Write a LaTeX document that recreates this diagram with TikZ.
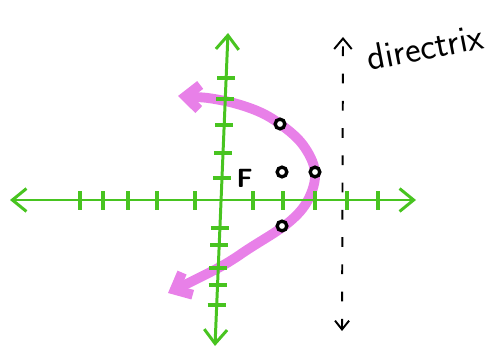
\documentclass[tikz,border=0pt]{standalone}
\usetikzlibrary{arrows.meta,positioning}

\definecolor{axisgreen}{RGB}{72,196,32}
\definecolor{curvepink}{RGB}{232,128,232}

\tikzset{
	axis/.style={axisgreen, line width=1.7pt, {Straight Barb[length=8pt,width=13pt]}-{Straight Barb[length=8pt,width=13pt]}},
	tickmark/.style={axisgreen, line width=2.2pt},
	parab/.style={curvepink, line width=5.6pt, line cap=round, {Straight Barb[length=8pt,width=14pt]}-{Straight Barb[length=8pt,width=14pt]}},
	dot/.style={circle, draw=black, fill=white, line width=1.9pt, inner sep=0pt, minimum size=5.5pt},
	dirline/.style={black, line width=1.1pt, dash pattern=on 5.5pt off 10pt, {Straight Barb[length=5pt,width=8pt]}-{Straight Barb[length=6pt,width=10pt]}},
}

\begin{document}
\begin{tikzpicture}[x=0.02cm, y=-0.02cm]
	\useasboundingbox (0,0) rectangle (492,347);
	
	% 1. 坐标轴和准线的端点
	\coordinate (xl) at (10,200);
	\coordinate (xr) at (416,200);
	\coordinate (yt) at (228,33);
	\coordinate (yb) at (215,346);
	\coordinate (dt) at (343,37);
	\coordinate (db) at (342,331);
	
	% 2. 抛物线 (向左开口)
	\draw[parab] plot[smooth, tension=0.6] coordinates {(178,96) (220,100) (255,110) (280,124) (303,145) (315,172) (308,200) (288,223) (250,248) (220,267) (168,293)};
	
	% 3. 坐标轴和刻度
	\draw[axis] (xl) -- (xr);
	\draw[axis] (yb) -- (yt);
	\foreach \t in {80,103,128,157,195,253,283,315,347,378}
		\draw[tickmark] (\t,191) -- (\t,210);
	\foreach \t in {78,99,125,153,178,228,245,268,285,305}
		\draw[tickmark] ({219-0.0414*(\t-33)},\t) -- ++(18,0);
	
	% 4. 准线
	\draw[dirline] (db) -- (dt);
	\node[rotate=11, font=\sffamily\fontsize{21}{24}\selectfont] (dlabel) at (425,47) {directrix};
	
	% 5. 焦点、顶点和曲线上的点
	\node[dot] (vertex) at (315,172) {};
	\node[dot] (focus) at (282,172) {};
	\node[dot] (upper) at (280,124) {};
	\node[dot] (lower) at (282,226) {};
	\node[left=0.33cm of focus, yshift=-0.12cm, font=\sffamily\bfseries\fontsize{15}{17}\selectfont] (flabel) {F};
\end{tikzpicture}
\end{document}
